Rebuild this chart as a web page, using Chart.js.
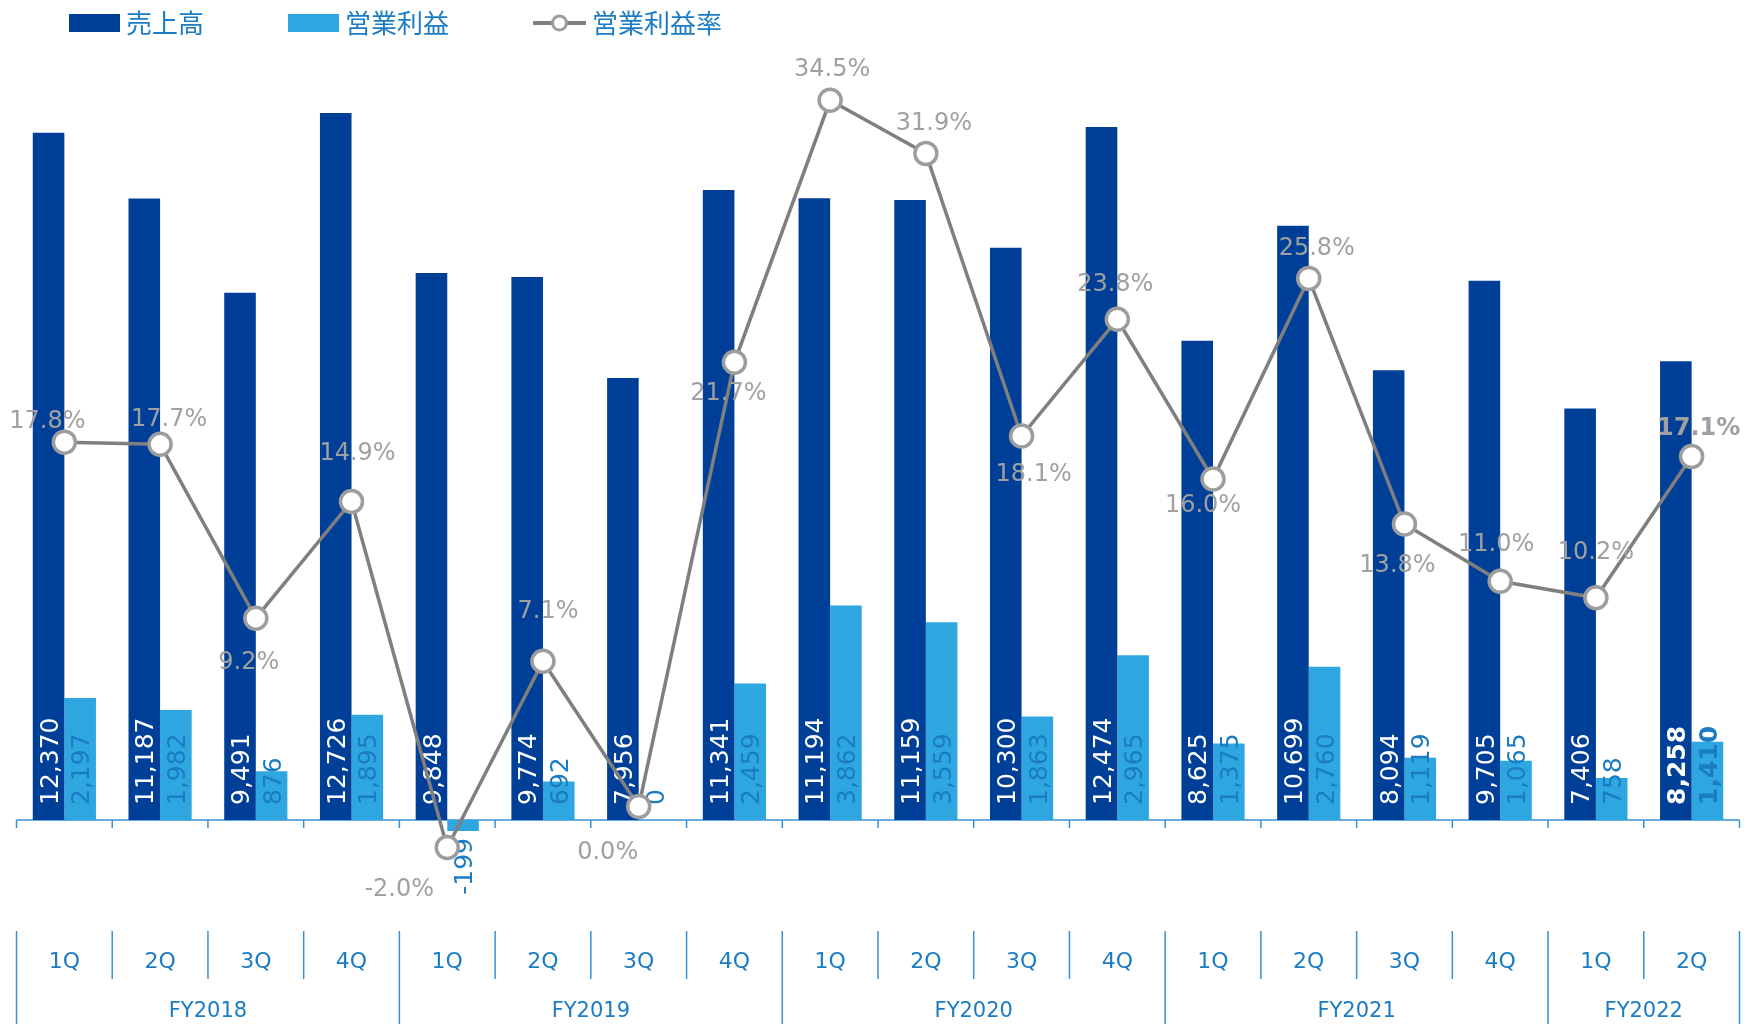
<!DOCTYPE html>
<html lang="ja">
<head>
<meta charset="utf-8">
<title>売上高・営業利益・営業利益率</title>
<script src="https://cdn.jsdelivr.net/npm/chart.js@4.4.1/dist/chart.umd.min.js"></script>
<style>
  html, body { margin: 0; padding: 0; background: #fff; }
  #wrap { width: 1754px; height: 1024px; position: relative; }
</style>
</head>
<body>
<div id="wrap"><canvas id="chart"></canvas></div>
<script>
// Quarterly results, FY2018 1Q - FY2022 2Q
const quarters = ['1Q', '2Q', '3Q', '4Q', '1Q', '2Q', '3Q', '4Q', '1Q', '2Q', '3Q', '4Q',
  '1Q', '2Q', '3Q', '4Q', '1Q', '2Q'];
const fiscalYears = ['FY2018', 'FY2019', 'FY2020', 'FY2021', 'FY2022'];
const quartersPerYear = [4, 4, 4, 4, 2];

const sales = [12370, 11187, 9491, 12726, 9848, 9774, 7956, 11341, 11194, 11159, 10300, 12474,
  8625, 10699, 8094, 9705, 7406, 8258];
const operatingProfit = [2197, 1982, 876, 1895, -199, 692, 0, 2459, 3862, 3559, 1863, 2965,
  1375, 2760, 1119, 1065, 758, 1410];
const operatingMargin = [17.8, 17.7, 9.2, 14.9, -2.0, 7.1, 0.0, 21.7, 34.5, 31.9, 18.1, 23.8,
  16.0, 25.8, 13.8, 11.0, 10.2, 17.1];

// latest quarter is emphasised in bold
const latestIndex = quarters.length - 1;

// where each margin label sits relative to its point (px)
const marginLabelOffsets = [[-17, -23], [9, -27], [-7, 42], [6, -50], [-48, 40], [5, -52],
  [-31, 44], [-6, 29], [2, -33], [8, -32], [12, 36], [-2, -37], [-10, 24], [8, -32],
  [-7, 39], [-4, -39], [0, -47], [7, -30]];

const NAVY = '#003f98';
const SKY = '#2ea7e0';
const GREY_LINE = '#7f7f7f';
const GREY_MARK = '#9d9d9d';
const GREY_TEXT = '#a0a0a0';
const BLUE_TEXT = '#1b7cc4';
const AXIS_BLUE = '#3a92d4';
const NUM_FONT = '"DejaVu Sans", Verdana, sans-serif';
const JP_FONT = '"Noto Sans CJK JP", sans-serif';

const fmt = (v) => v.toLocaleString('en-US');

// category axis drawn as a two-row table (quarters / fiscal years)
const categoryTable = {
  id: 'categoryTable',
  beforeDatasetsDraw(chart) {
    const { ctx } = chart;
    const x = chart.scales.x;
    const y0 = chart.scales.y.getPixelForValue(0);
    const step = x.getPixelForValue(1) - x.getPixelForValue(0);
    const edges = quarters.map((_, i) => x.getPixelForValue(i) - step / 2);
    edges.push(x.getPixelForValue(quarters.length - 1) + step / 2);

    const tableTop = 931, rowSplit = 979, tableBottom = 1024;

    ctx.save();
    ctx.strokeStyle = AXIS_BLUE;
    ctx.lineWidth = 1.5;
    ctx.beginPath();
    ctx.moveTo(edges[0], y0);
    ctx.lineTo(edges[edges.length - 1], y0);
    edges.forEach((ex) => {
      ctx.moveTo(ex, y0);
      ctx.lineTo(ex, y0 + 8);
    });

    // year boundaries run through both rows, quarter boundaries only the top row
    const yearEdges = new Set([0]);
    let acc = 0;
    quartersPerYear.forEach((n) => { acc += n; yearEdges.add(acc); });
    edges.forEach((ex, i) => {
      ctx.moveTo(ex, tableTop);
      ctx.lineTo(ex, yearEdges.has(i) ? tableBottom : rowSplit);
    });
    ctx.stroke();

    ctx.fillStyle = BLUE_TEXT;
    ctx.textAlign = 'center';
    ctx.textBaseline = 'middle';
    ctx.font = '22px ' + NUM_FONT;
    quarters.forEach((q, i) => ctx.fillText(q, x.getPixelForValue(i), 962));

    ctx.font = '21px ' + NUM_FONT;
    let start = 0;
    fiscalYears.forEach((fy, k) => {
      const end = start + quartersPerYear[k];
      ctx.fillText(fy, (edges[start] + edges[end]) / 2, 1012);
      start = end;
    });
    ctx.restore();
  }
};

// value labels: vertical inside the bars, percentages beside the markers
const valueLabels = {
  id: 'valueLabels',
  afterDatasetDraw(chart, args) {
    const { ctx } = chart;
    const ds = chart.data.datasets[args.index];
    const meta = args.meta;
    ctx.save();
    if (ds.type === 'bar') {
      const y0 = chart.scales.y.getPixelForValue(0);
      const fs = 25;
      ctx.fillStyle = ds.labelColor;
      ctx.textBaseline = 'alphabetic';
      meta.data.forEach((bar, i) => {
        const v = ds.data[i];
        ctx.font = (i === latestIndex ? 'bold ' : '') + fs + 'px ' + NUM_FONT;
        ctx.save();
        ctx.translate(bar.x, y0);
        ctx.rotate(-Math.PI / 2);
        if (v >= 0) {
          ctx.textAlign = 'left';
          ctx.fillText(fmt(v), 15, fs * 0.365);
        } else {
          ctx.textAlign = 'right';
          ctx.fillText(fmt(v), -18, fs * 0.365);
        }
        ctx.restore();
      });
    } else {
      const fs = 24;
      ctx.fillStyle = GREY_TEXT;
      ctx.textAlign = 'center';
      ctx.textBaseline = 'alphabetic';
      meta.data.forEach((pt, i) => {
        const [dx, dy] = marginLabelOffsets[i];
        ctx.font = (i === latestIndex ? 'bold ' : '') + fs + 'px ' + NUM_FONT;
        ctx.fillText(ds.data[i].toFixed(1) + '%', pt.x + dx, pt.y + dy + fs * 0.365);
      });
    }
    ctx.restore();
  }
};

// legend row across the top
const topLegend = {
  id: 'topLegend',
  afterDraw(chart) {
    const { ctx } = chart;
    const cy = 23;
    let x = 69;
    ctx.save();
    ctx.font = '26px ' + JP_FONT;
    ctx.textBaseline = 'middle';
    ctx.textAlign = 'left';
    chart.data.datasets.forEach((ds) => {
      if (ds.type === 'bar') {
        ctx.fillStyle = ds.backgroundColor;
        ctx.fillRect(x, cy - 9, 51, 18);
        x += 51;
      } else {
        ctx.strokeStyle = GREY_LINE;
        ctx.lineWidth = 4;
        ctx.beginPath();
        ctx.moveTo(x, cy);
        ctx.lineTo(x + 53, cy);
        ctx.stroke();
        ctx.beginPath();
        ctx.arc(x + 26.5, cy, 7, 0, Math.PI * 2);
        ctx.fillStyle = '#fff';
        ctx.fill();
        ctx.lineWidth = 3;
        ctx.strokeStyle = GREY_MARK;
        ctx.stroke();
        x += 53;
      }
      x += 6;
      ctx.fillStyle = BLUE_TEXT;
      ctx.fillText(ds.label, x, cy);
      x += ctx.measureText(ds.label).width + 84;
    });
    ctx.restore();
  }
};

new Chart(document.getElementById('chart'), {
  data: {
    labels: quarters,
    datasets: [
      {
        type: 'bar',
        label: '売上高',
        data: sales,
        backgroundColor: NAVY,
        labelColor: '#ffffff',
        yAxisID: 'y',
        order: 1,
        categoryPercentage: 0.66,
        barPercentage: 1.0,
      },
      {
        type: 'bar',
        label: '営業利益',
        data: operatingProfit,
        backgroundColor: SKY,
        labelColor: BLUE_TEXT,
        yAxisID: 'y',
        order: 1,
        categoryPercentage: 0.66,
        barPercentage: 1.0,
      },
      {
        type: 'line',
        label: '営業利益率',
        data: operatingMargin,
        yAxisID: 'y1',
        order: 0,
        borderColor: GREY_LINE,
        borderWidth: 3.5,
        tension: 0,
        pointRadius: 11,
        pointBorderWidth: 3.5,
        pointBorderColor: GREY_MARK,
        pointBackgroundColor: '#ffffff',
        clip: false,
      },
    ],
  },
  options: {
    responsive: true,
    maintainAspectRatio: false,
    animation: false,
    events: [],
    layout: { padding: { left: 16.5, right: 12.3, top: 40, bottom: 144 } },
    plugins: {
      legend: { display: false },
      tooltip: { enabled: false },
    },
    scales: {
      x: { display: false, offset: true },
      y: { display: false, min: -1080, max: 14041 },
      y1: { display: false, position: 'right', min: -3.59, max: 37.445 },
    },
  },
  plugins: [categoryTable, valueLabels, topLegend],
});
</script>
</body>
</html>
